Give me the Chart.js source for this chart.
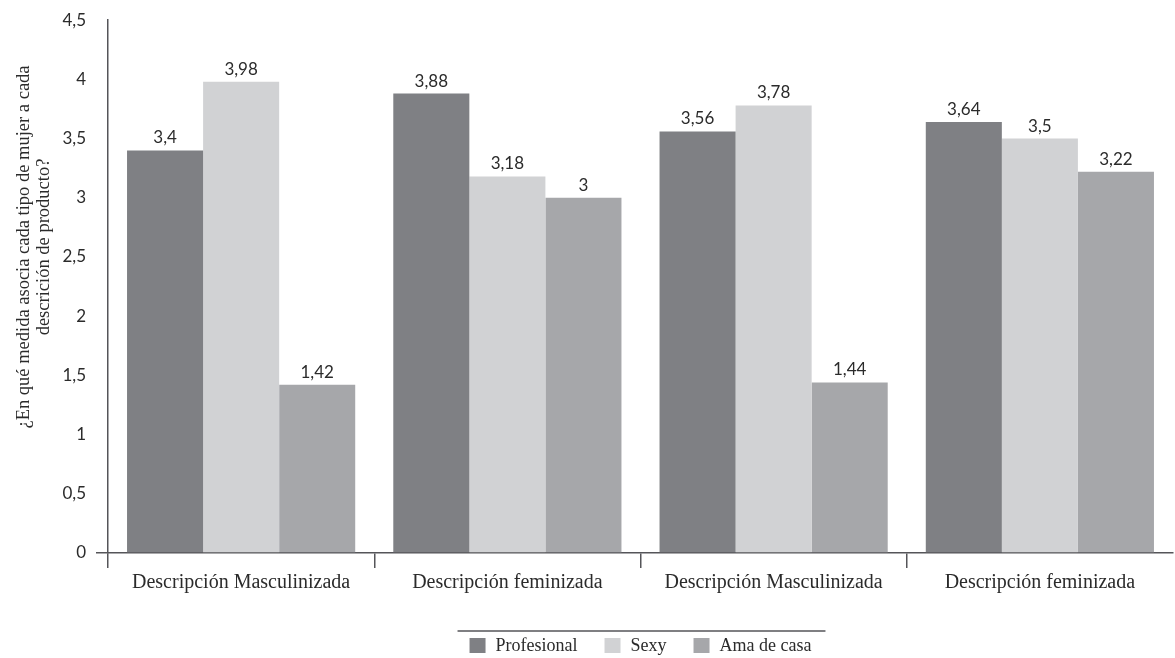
<!DOCTYPE html>
<html lang="es">
<head>
<meta charset="utf-8">
<script src="https://cdn.jsdelivr.net/npm/chart.js@4.4.1/dist/chart.umd.min.js"></script>
<style>
  html, body { margin: 0; padding: 0; background: #fff; }
  #contenedor { width: 1175px; height: 658px; }
</style>
</head>
<body>
<div id="contenedor"><canvas id="graficoDescripciones"></canvas></div>
<script>
// Datos del gráfico
const categorias = ['Descripción Masculinizada', 'Descripción feminizada', 'Descripción Masculinizada', 'Descripción feminizada'];
const profesional = [3.4, 3.88, 3.56, 3.64];
const sexy = [3.98, 3.18, 3.78, 3.5];
const amaDeCasa = [1.42, 3, 1.44, 3.22];
const marcasEjeY = [0, 0.5, 1, 1.5, 2, 2.5, 3, 3.5, 4, 4.5];
const tituloEjeY = ['¿En qué medida asocia cada tipo de mujer a cada', 'descrición de producto?'];

const colorEje = '#555559';
const colorTexto = '#2b2b2b';
const serif = '"Liberation Serif", "DejaVu Serif", serif';
const sans = 'Lato, "Open Sans", sans-serif';

// Números con coma decimal
const conComa = v => String(v).replace('.', ',');

// Valor encima de cada barra
const etiquetasValor = {
    id: 'etiquetasValor',
    afterDatasetsDraw(chart) {
        const ctx = chart.ctx;
        ctx.save();
        ctx.font = '17px ' + sans;
        ctx.fillStyle = colorTexto;
        ctx.textAlign = 'center';
        ctx.textBaseline = 'bottom';
        chart.data.datasets.forEach((ds, i) => {
            chart.getDatasetMeta(i).data.forEach((barra, j) => {
                ctx.fillText(conComa(ds.data[j]), barra.x, barra.y - 4);
            });
        });
        ctx.restore();
    }
};

// Título vertical del eje Y (dos líneas)
const tituloVertical = {
    id: 'tituloVertical',
    afterDraw(chart) {
        const ctx = chart.ctx;
        ctx.save();
        ctx.translate(24, 247);
        ctx.rotate(-Math.PI / 2);
        ctx.font = '18.5px ' + serif;
        ctx.fillStyle = colorTexto;
        ctx.textAlign = 'center';
        ctx.textBaseline = 'middle';
        tituloEjeY.forEach((linea, i) => ctx.fillText(linea, 0, i * 20));
        ctx.restore();
    }
};

// Leyenda inferior con línea superior
const leyenda = {
    id: 'leyenda',
    afterDraw(chart) {
        const ctx = chart.ctx;
        const area = chart.chartArea;
        const caja = 16, altoCaja = 15, separacion = 10, hueco = 27;
        ctx.save();
        ctx.font = '18px ' + serif;
        const items = chart.data.datasets.map(ds => ({
            texto: ds.label,
            color: ds.backgroundColor,
            ancho: caja + separacion + ctx.measureText(ds.label).width
        }));
        const total = items.reduce((s, it) => s + it.ancho, 0) + hueco * (items.length - 1);
        let x = (area.left + area.right) / 2 - total / 2;
        const yCentro = 645.5;

        ctx.strokeStyle = colorEje;
        ctx.lineWidth = 1.5;
        ctx.beginPath();
        ctx.moveTo(x - 12, 631);
        ctx.lineTo(x + total + 14, 631);
        ctx.stroke();

        ctx.textBaseline = 'middle';
        ctx.textAlign = 'left';
        items.forEach(it => {
            ctx.fillStyle = it.color;
            ctx.fillRect(x, yCentro - altoCaja / 2, caja, altoCaja);
            ctx.fillStyle = colorTexto;
            ctx.fillText(it.texto, x + caja + separacion, yCentro + 1);
            x += it.ancho + hueco;
        });
        ctx.restore();
    }
};

new Chart(document.getElementById('graficoDescripciones'), {
    type: 'bar',
    data: {
        labels: categorias,
        datasets: [
            { label: 'Profesional', data: profesional, backgroundColor: '#7f8084' },
            { label: 'Sexy', data: sexy, backgroundColor: '#d1d2d4' },
            { label: 'Ama de casa', data: amaDeCasa, backgroundColor: '#a6a7aa' }
        ]
    },
    options: {
        responsive: true,
        maintainAspectRatio: false,
        animation: false,
        datasets: {
            bar: { categoryPercentage: 0.857, barPercentage: 1 }
        },
        layout: { padding: { top: 18, right: 2, bottom: 55, left: 0 } },
        plugins: {
            legend: { display: false },
            tooltip: { enabled: false }
        },
        scales: {
            x: {
                border: { color: colorEje, width: 1.5 },
                grid: {
                    offset: true,
                    drawOnChartArea: false,
                    tickLength: 15,
                    lineWidth: 1.5,
                    color: c => c.tick ? colorEje : 'transparent'
                },
                ticks: { font: { family: serif, size: 20 }, color: colorTexto, padding: 3 },
                afterFit: s => { s.height = 50; }
            },
            y: {
                min: 0,
                max: 4.5,
                border: { color: colorEje, width: 1.5 },
                grid: {
                    drawOnChartArea: false,
                    tickLength: 12,
                    lineWidth: 1.5,
                    color: c => (c.tick && c.tick.value === 0) ? colorEje : 'transparent'
                },
                afterBuildTicks: s => { s.ticks = marcasEjeY.map(v => ({ value: v })); },
                ticks: {
                    font: { family: sans, size: 17 },
                    color: colorTexto,
                    padding: 10,
                    callback: v => conComa(v)
                },
                afterFit: s => { s.width = 108; }
            }
        }
    },
    plugins: [etiquetasValor, tituloVertical, leyenda]
});
</script>
</body>
</html>
